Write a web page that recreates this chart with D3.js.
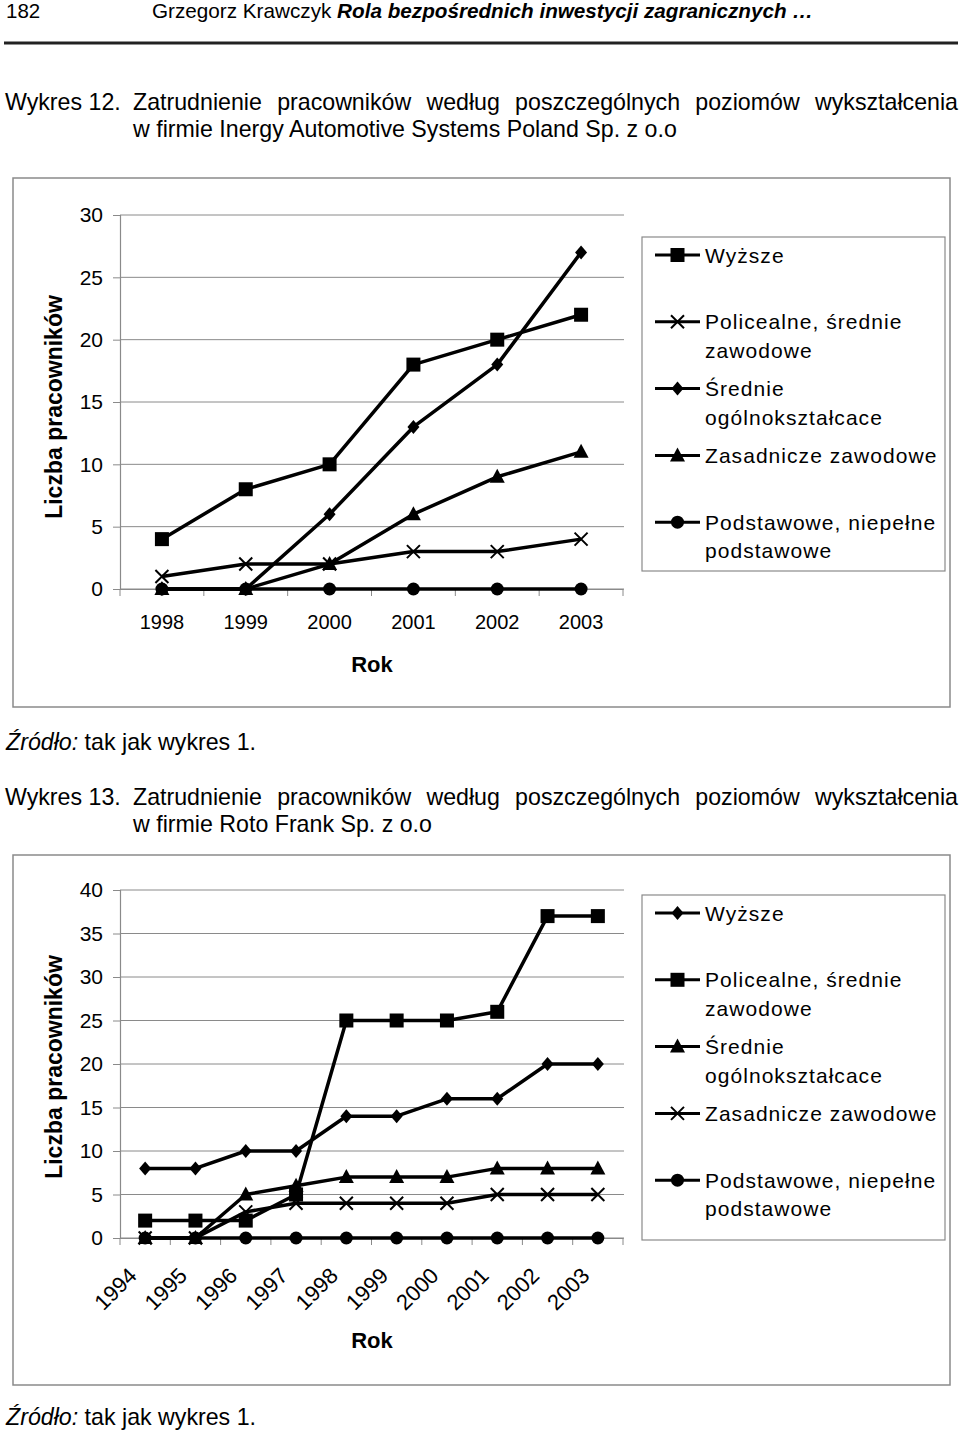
<!DOCTYPE html>
<html><head><meta charset="utf-8">
<script src="https://cdn.jsdelivr.net/npm/d3@7"></script>
<style>body{margin:0;background:#fff} svg{display:block}</style>
</head><body>
<script>
// ---------- DATA ----------
const years1 = ["1998","1999","2000","2001","2002","2003"];
const c1Wyzsze      = [4, 8, 10, 18, 20, 22];
const c1Policealne  = [1, 2, 2, 3, 3, 4];
const c1Srednie     = [0, 0, 6, 13, 18, 27];
const c1Zasadnicze  = [0, 0, 2, 6, 9, 11];
const c1Podstawowe  = [0, 0, 0, 0, 0, 0];
const c1Markers = ["square","x","diamond","triangle","circle"];
const c1Ticks = [0,5,10,15,20,25,30];

const years2 = ["1994","1995","1996","1997","1998","1999","2000","2001","2002","2003"];
const c2Wyzsze      = [8, 8, 10, 10, 14, 14, 16, 16, 20, 20];
const c2Policealne  = [2, 2, 2, 5, 25, 25, 25, 26, 37, 37];
const c2Srednie     = [0, 0, 5, 6, 7, 7, 7, 8, 8, 8];
const c2Zasadnicze  = [0, 0, 3, 4, 4, 4, 4, 5, 5, 5];
const c2Podstawowe  = [0, 0, 0, 0, 0, 0, 0, 0, 0, 0];
const c2Markers = ["diamond","square","triangle","x","circle"];
const c2Ticks = [0,5,10,15,20,25,30,35,40];

const legendLines = [["Wyższe"],["Policealne, średnie","zawodowe"],["Średnie","ogólnokształcace"],["Zasadnicze zawodowe"],["Podstawowe, niepełne","podstawowe"]];

const headerNum = "182";
const headerAuthor = "Grzegorz Krawczyk ";
const headerTitle = "Rola bezpośrednich inwestycji zagranicznych …";
const title1a = "Wykres 12.";
const title1b = "Zatrudnienie pracowników według poszczególnych poziomów wykształcenia";
const title1c = "w firmie Inergy Automotive Systems Poland Sp. z o.o";
const title2a = "Wykres 13.";
const title2b = "Zatrudnienie pracowników według poszczególnych poziomów wykształcenia";
const title2c = "w firmie Roto Frank Sp. z o.o";
const srcItalic = "Źródło:";
const srcText = " tak jak wykres 1.";
const yLabel = "Liczba pracowników";
const xLabel = "Rok";

// ---------- SETUP ----------
const SANS = "'Liberation Sans', Arial, Helvetica, sans-serif";
const GRAY = "#8a8a8a";
const svg = d3.select("body").append("svg").attr("width",960).attr("height",1433);

function justify(words, x0, x1, y, size) {
  const g = svg.append("g").attr("font-family",SANS).attr("font-size",size);
  const tmp = words.map(w => g.append("text").text(w));
  const widths = tmp.map(t => t.node().getComputedTextLength());
  tmp.forEach(t => t.remove());
  const gap = (x1 - x0 - d3.sum(widths)) / (words.length - 1);
  let x = x0;
  words.forEach((w,i) => { g.append("text").attr("x",x).attr("y",y).text(w); x += widths[i] + gap; });
}

// Header
svg.append("text").attr("x",6).attr("y",18).attr("font-family",SANS).attr("font-size",20.5).text(headerNum);
const ht = svg.append("text").attr("x",152).attr("y",18).attr("font-family",SANS).attr("font-size",20.7);
ht.append("tspan").text(headerAuthor);
ht.append("tspan").attr("font-weight","bold").attr("font-style","italic").text(headerTitle);
svg.append("line").attr("x1",4).attr("x2",958).attr("y1",43).attr("y2",43).attr("stroke","#222").attr("stroke-width",3);

// Titles
const TS = 23.2;
svg.append("text").attr("x",5).attr("y",110).attr("font-family",SANS).attr("font-size",TS).text(title1a);
justify(title1b.split(" "), 133, 958, 110, TS);
svg.append("text").attr("x",133).attr("y",137).attr("font-family",SANS).attr("font-size",TS).text(title1c);

function source(y) {
  const t = svg.append("text").attr("x",6).attr("y",y).attr("font-family",SANS).attr("font-size",TS);
  t.append("tspan").attr("font-style","italic").text(srcItalic);
  t.append("tspan").text(srcText);
}
source(750);

svg.append("text").attr("x",5).attr("y",805).attr("font-family",SANS).attr("font-size",TS).text(title2a);
justify(title2b.split(" "), 133, 958, 805, TS);
svg.append("text").attr("x",133).attr("y",832).attr("font-family",SANS).attr("font-size",TS).text(title2c);
source(1425);

// Marker drawing
function marker(g, type, cx, cy) {
  if (type === "square") g.append("rect").attr("x",cx-7).attr("y",cy-7).attr("width",14).attr("height",14).attr("fill","#000");
  else if (type === "diamond") g.append("path").attr("d",`M${cx},${cy-7}L${cx+6},${cy}L${cx},${cy+7}L${cx-6},${cy}Z`).attr("fill","#000");
  else if (type === "triangle") g.append("path").attr("d",`M${cx},${cy-8}L${cx+7.5},${cy+6}L${cx-7.5},${cy+6}Z`).attr("fill","#000");
  else if (type === "circle") g.append("circle").attr("cx",cx).attr("cy",cy).attr("r",6.5).attr("fill","#000");
  else if (type === "x") g.append("path").attr("d",`M${cx-6.5},${cy-6.5}L${cx+6.5},${cy+6.5}M${cx-6.5},${cy+6.5}L${cx+6.5},${cy-6.5}`).attr("stroke","#000").attr("stroke-width",2).attr("fill","none");
}

function drawChart(cfg) {
  const g = svg.append("g");
  const f = cfg.frame;
  g.append("rect").attr("x",f[0]).attr("y",f[1]).attr("width",f[2]-f[0]).attr("height",f[3]-f[1])
    .attr("fill","none").attr("stroke",GRAY).attr("stroke-width",1.5);

  const x = d3.scaleBand().domain(cfg.years).range([120, 623]);
  const yMax = d3.max(cfg.ticks);
  const y = d3.scaleLinear().domain([0, yMax]).range([cfg.y0, cfg.yTop]);

  g.selectAll(".grid").data(cfg.ticks).join("line")
    .attr("x1",120).attr("x2",624).attr("y1",d=>y(d)).attr("y2",d=>y(d))
    .attr("stroke",GRAY).attr("stroke-width",1);

  const ya = g.append("g").attr("transform","translate(120,0)")
    .call(d3.axisLeft(y).tickValues(cfg.ticks).tickSize(7).tickPadding(10).tickFormat(d3.format("d")));
  ya.selectAll("path.domain").attr("stroke",GRAY).attr("stroke-width",1.2);
  ya.selectAll(".tick line").attr("stroke",GRAY);
  ya.selectAll(".tick text").attr("font-family",SANS).attr("font-size",21).attr("fill","#000");

  const xa = g.append("g").attr("transform",`translate(0,${cfg.y0})`)
    .call(d3.axisBottom(x).tickSize(0).tickPadding(0));
  xa.selectAll("path.domain").attr("stroke",GRAY).attr("stroke-width",1.2);
  xa.selectAll(".tick text").remove();
  const bounds = cfg.years.map(d => x(d)).concat([623]);
  g.selectAll(".bt").data(bounds).join("line")
    .attr("x1",d=>d).attr("x2",d=>d).attr("y1",cfg.y0).attr("y2",cfg.y0+7).attr("stroke",GRAY);

  if (!cfg.rotate) {
    g.selectAll(".xl").data(cfg.years).join("text")
      .attr("x",d=>x(d)+x.bandwidth()/2).attr("y",cfg.y0+40)
      .attr("text-anchor","middle").attr("font-family",SANS).attr("font-size",20).text(d=>d);
  } else {
    g.selectAll(".xl").data(cfg.years).join("text")
      .attr("transform",d=>`translate(${x(d)+x.bandwidth()/2-7},${cfg.y0+39}) rotate(-45)`)
      .attr("text-anchor","end").attr("font-family",SANS).attr("font-size",22).text(d=>d);
  }

  g.append("text").attr("x",372).attr("y",cfg.rokY).attr("text-anchor","middle")
    .attr("font-family",SANS).attr("font-size",22).attr("font-weight","bold").text(xLabel);
  g.append("text").attr("transform",`translate(62,${cfg.ylabY}) rotate(-90)`).attr("text-anchor","middle")
    .attr("font-family",SANS).attr("font-size",23).attr("font-weight","bold").text(yLabel);

  const line = d3.line().x((d,i)=>x(cfg.years[i])+x.bandwidth()/2).y(d=>y(d));
  cfg.series.forEach((s,k) => {
    const sg = g.append("g");
    sg.append("path").attr("d",line(s)).attr("fill","none").attr("stroke","#000").attr("stroke-width",3.5).attr("stroke-linejoin","round");
    s.forEach((v,i) => marker(sg, cfg.markers[k], x(cfg.years[i])+x.bandwidth()/2, y(v)));
  });

  const L = cfg.legend;
  g.append("rect").attr("x",L[0]).attr("y",L[1]).attr("width",L[2]-L[0]).attr("height",L[3]-L[1])
    .attr("fill","#fff").attr("stroke",GRAY).attr("stroke-width",1.2);
  legendLines.forEach((lines,k) => {
    const cy = cfg.legFirst + k*66.8;
    g.append("line").attr("x1",655).attr("x2",700).attr("y1",cy).attr("y2",cy).attr("stroke","#000").attr("stroke-width",3);
    marker(g, cfg.markers[k], 677.5, cy);
    lines.forEach((t,j) => g.append("text").attr("x",705).attr("y",cy+7.5+j*28.5)
      .attr("font-family",SANS).attr("font-size",21).attr("letter-spacing",1.05).text(t));
  });
}

drawChart({frame:[13,178,950,707], years:years1, ticks:c1Ticks, y0:589, yTop:215,
  series:[c1Wyzsze,c1Policealne,c1Srednie,c1Zasadnicze,c1Podstawowe], markers:c1Markers,
  rotate:false, rokY:672, ylabY:407, legend:[642,237,945,571], legFirst:255});

drawChart({frame:[13,855,950,1385], years:years2, ticks:c2Ticks, y0:1238, yTop:890,
  series:[c2Wyzsze,c2Policealne,c2Srednie,c2Zasadnicze,c2Podstawowe], markers:c2Markers,
  rotate:true, rokY:1348, ylabY:1067, legend:[642,895,945,1240], legFirst:913});
</script>
</body></html>
